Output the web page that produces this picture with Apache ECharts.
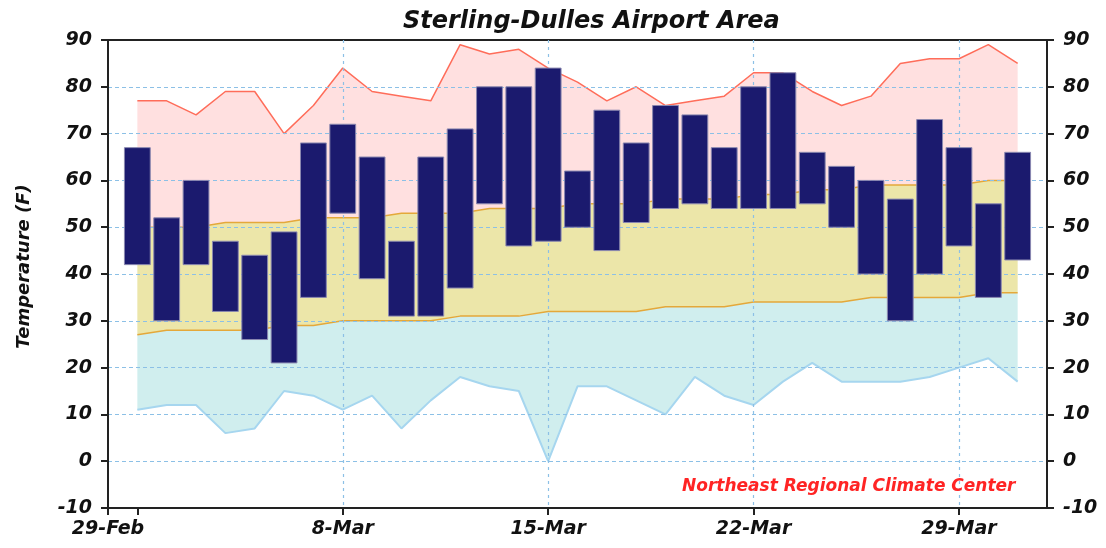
<!DOCTYPE html>
<html>
<head>
<meta charset="utf-8">
<script src="https://cdn.jsdelivr.net/npm/echarts@6/dist/echarts.min.js"></script>
<style>
  html, body { margin: 0; padding: 0; background: #fff; }
  #chart { width: 1106px; height: 548px; }
</style>
</head>
<body>
<div id="chart"></div>
<script>
// x axis runs from 29-Feb to 1-Apr; data covers 1-Mar .. 31-Mar
const dates = ['29-Feb',
    '1-Mar', '2-Mar', '3-Mar', '4-Mar', '5-Mar', '6-Mar', '7-Mar', '8-Mar',
    '9-Mar', '10-Mar', '11-Mar', '12-Mar', '13-Mar', '14-Mar', '15-Mar', '16-Mar',
    '17-Mar', '18-Mar', '19-Mar', '20-Mar', '21-Mar', '22-Mar', '23-Mar', '24-Mar',
    '25-Mar', '26-Mar', '27-Mar', '28-Mar', '29-Mar', '30-Mar', '31-Mar',
    '1-Apr'];
const dataDates = dates.slice(1, 32);

// observed daily max / min
const obsHigh = [67, 52, 60, 47, 44, 49, 68, 72, 65, 47, 65, 71, 80, 80, 84, 62,
                 75, 68, 76, 74, 67, 80, 83, 66, 63, 60, 56, 73, 67, 55, 66];
const obsLow  = [42, 30, 42, 32, 26, 21, 35, 53, 39, 31, 31, 37, 55, 46, 47, 50,
                 45, 51, 54, 55, 54, 54, 54, 55, 50, 40, 30, 40, 46, 35, 43];

// climatology
const recordHigh = [77, 77, 74, 79, 79, 70, 76, 84, 79, 78, 77, 89, 87, 88, 84, 81,
                    77, 80, 76, 77, 78, 83, 83, 79, 76, 78, 85, 86, 86, 89, 85];
const normalHigh = [50, 50, 50, 51, 51, 51, 52, 52, 52, 53, 53, 53, 54, 54, 54, 55,
                    55, 55, 56, 56, 56, 57, 57, 58, 58, 59, 59, 59, 59, 60, 60];
const normalLow  = [27, 28, 28, 28, 28, 29, 29, 30, 30, 30, 30, 31, 31, 31, 32, 32,
                    32, 32, 33, 33, 33, 34, 34, 34, 34, 35, 35, 35, 35, 36, 36];
const recordLow  = [11, 12, 12, 6, 7, 15, 14, 11, 14, 7, 13, 18, 16, 15, 0, 16,
                    16, 13, 10, 18, 14, 12, 17, 21, 17, 17, 17, 18, 20, 22, 17];

// x axis ticks / labels / vertical grid lines
const tickDates  = ['29-Feb', '1-Mar', '8-Mar', '15-Mar', '22-Mar', '29-Mar'];
const labelDates = ['29-Feb', '8-Mar', '15-Mar', '22-Mar', '29-Mar'];
const gridDates  = ['8-Mar', '15-Mar', '22-Mar', '29-Mar'];

const FONT = 'DejaVu Sans';
const gridColor = '#8cc0e6';

const chart = echarts.init(document.getElementById('chart'));

// stacked band: the layer between `lower` and `upper`
function band(name, upper, lower, fill, line, lw) {
    return {
        name: name,
        type: 'line',
        stack: 'climo',
        data: dataDates.map((d, i) => [d, lower ? upper[i] - lower[i] : upper[i]]),
        symbol: 'none',
        z: 2,
        lineStyle: { color: line, width: lw },
        areaStyle: fill ? { color: fill, opacity: 1 } : undefined,
        silent: true
    };
}

const labelFont = {
    fontFamily: FONT, fontSize: 19, fontWeight: 'bold',
    fontStyle: 'italic', color: '#111'
};

const option = {
    animation: false,
    title: {
        text: 'Sterling-Dulles Airport Area',
        left: 398,
        top: 5,
        textStyle: {
            fontFamily: FONT, fontSize: 24, fontWeight: 'bold',
            fontStyle: 'italic', color: '#111'
        }
    },
    grid: {
        left: 108, right: 59, top: 40, bottom: 40,
        show: true, borderColor: '#222', borderWidth: 2,
        backgroundColor: 'transparent'
    },
    xAxis: {
        type: 'category',
        data: dates,
        boundaryGap: false,
        z: 3,
        axisLine: { onZero: false, lineStyle: { color: '#222', width: 2 } },
        axisTick: {
            interval: (i, v) => tickDates.includes(v),
            length: 7, lineStyle: { color: '#222', width: 2 }
        },
        axisLabel: Object.assign({
            interval: (i, v) => labelDates.includes(v),
            margin: 12
        }, labelFont),
        splitLine: {
            show: true,
            interval: (i, v) => gridDates.includes(v),
            lineStyle: { color: gridColor, width: 1.2, type: [3, 4] }
        }
    },
    yAxis: [{
        type: 'value',
        min: -10, max: 90, interval: 10,
        z: 3,
        name: 'Temperature (F)',
        nameLocation: 'middle',
        nameGap: 75,
        nameTextStyle: {
            fontFamily: FONT, fontSize: 18, fontWeight: 'bold',
            fontStyle: 'italic', color: '#111', padding: [0, 0, 0, 15]
        },
        axisLine: { show: true, onZero: false, lineStyle: { color: '#222', width: 2 } },
        axisTick: { show: true, length: 7, lineStyle: { color: '#222', width: 2 } },
        axisLabel: Object.assign({ margin: 16 }, labelFont),
        splitLine: {
            show: true, showMinLine: false, showMaxLine: false,
            lineStyle: { color: gridColor, width: 1.2, type: [4, 3] }
        }
    }, {
        type: 'value',
        min: -10, max: 90, interval: 10,
        position: 'right',
        z: 3,
        axisLine: { show: true, onZero: false, lineStyle: { color: '#222', width: 2 } },
        axisTick: { show: true, length: 7, lineStyle: { color: '#222', width: 2 } },
        axisLabel: Object.assign({ margin: 16 }, labelFont),
        splitLine: { show: false }
    }],
    graphic: [{
        type: 'text',
        left: 682,
        top: 478,
        z: 20,
        style: {
            text: 'Northeast Regional Climate Center',
            fill: '#ff2424',
            font: 'italic bold 17px "DejaVu Sans"'
        }
    }],
    series: [
        band('Record Low', recordLow, null, null, '#a6d6ef', 2),
        band('Normal Low', normalLow, recordLow, '#d0eeee', '#e4a83a', 1.5),
        band('Normal High', normalHigh, normalLow, '#ece6a9', '#e4a83a', 1.5),
        band('Record High', recordHigh, normalHigh, '#ffe0e0', '#ff6d5a', 1.5),
        {
            name: 'Observed',
            type: 'custom',
            z: 5,
            data: dataDates.map((d, i) => [d, obsLow[i], obsHigh[i]]),
            renderItem: function (params, api) {
                const top = api.coord([api.value(0), api.value(2)]);
                const bot = api.coord([api.value(0), api.value(1)]);
                const w = api.size([1, 0])[0] * 0.88;
                return {
                    type: 'rect',
                    shape: { x: top[0] - w / 2, y: top[1], width: w, height: bot[1] - top[1] },
                    style: { fill: '#1b1a6e', stroke: '#8a88b0', lineWidth: 1 }
                };
            }
        }
    ]
};

chart.setOption(option);
</script>
</body>
</html>
